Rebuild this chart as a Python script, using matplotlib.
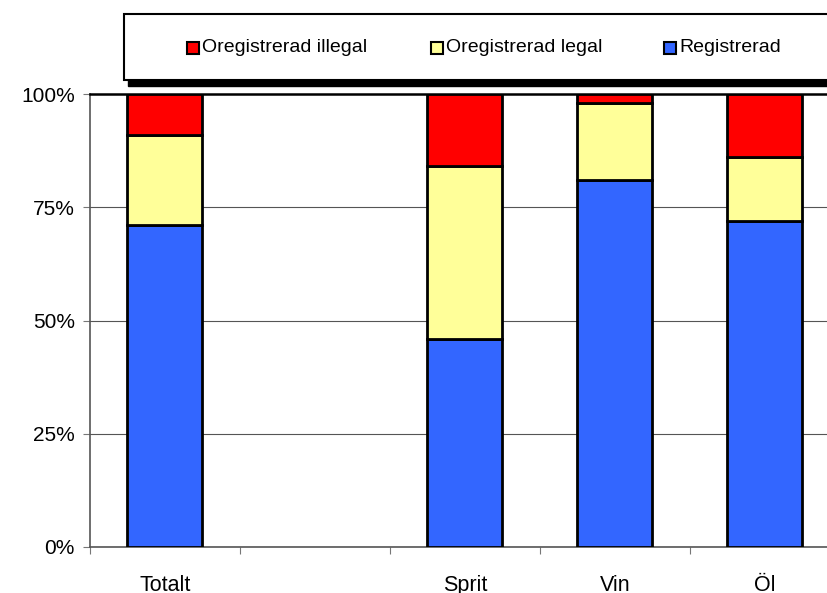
import numpy as np
import matplotlib.pyplot as plt
from matplotlib.patches import Rectangle

plt.rcParams["font.family"] = ["Liberation Sans", "DejaVu Sans"]

categories = ["Totalt", "", "Sprit", "Vin", "Öl"]
registrerad = [71, np.nan, 46, 81, 72]
oreg_legal = [20, np.nan, 38, 17, 14]
oreg_illegal = [9, np.nan, 16, 2, 14]

series_names = ["Oregistrerad illegal", "Oregistrerad legal", "Registrerad"]
colors = {"Registrerad": "#3366FF", "Oregistrerad legal": "#FFFF99", "Oregistrerad illegal": "#FF0000"}

fig = plt.figure(figsize=(8.28, 5.93), dpi=100)
ax = fig.add_axes([90 / 828, 1 - 547 / 593, 750 / 828, 453 / 593])

x = np.arange(len(categories))
reg = np.array(registrerad, dtype=float)
leg = np.array(oreg_legal, dtype=float)
ill = np.array(oreg_illegal, dtype=float)
kw = dict(width=0.5, edgecolor="black", linewidth=2.0, zorder=3)
ax.bar(x, reg, color=colors["Registrerad"], **kw)
ax.bar(x, leg, bottom=reg, color=colors["Oregistrerad legal"], **kw)
ax.bar(x, ill, bottom=reg + leg, color=colors["Oregistrerad illegal"], **kw)

ax.set_xlim(-0.5, len(categories) - 0.5)
ax.set_ylim(0, 100)
ax.set_yticks([0, 25, 50, 75, 100])
ax.set_yticklabels(["0%", "25%", "50%", "75%", "100%"], fontsize=15)
ax.yaxis.grid(True, color="#555555", linewidth=0.8, zorder=0)

# category boundary ticks, labels in between
ax.set_xticks(np.arange(len(categories) + 1) - 0.5)
ax.set_xticklabels([])
ax.set_xticks(x, minor=True)
ax.set_xticklabels(categories, minor=True, fontsize=15.5)
ax.tick_params(axis="x", which="minor", length=0, pad=20)
ax.tick_params(axis="x", which="major", length=5, color="#777777")
ax.tick_params(axis="y", length=5, color="#777777", pad=6)

for s in ["left", "bottom"]:
    ax.spines[s].set_color("#555555")
    ax.spines[s].set_linewidth(1.2)
ax.spines["top"].set_color("black")
ax.spines["top"].set_linewidth(1.8)
ax.spines["right"].set_visible(False)

# legend box with shadow
fig.patches.append(Rectangle((128 / 828, 1 - 86 / 593), 720 / 828, 66 / 593,
                             transform=fig.transFigure, facecolor="black", edgecolor="black"))
fig.patches.append(Rectangle((124 / 828, 1 - 80 / 593), 720 / 828, 66 / 593,
                             transform=fig.transFigure, facecolor="white", edgecolor="black",
                             linewidth=1.5))
entry_x = [187, 431, 664]
for name, ex in zip(series_names, entry_x):
    fig.patches.append(Rectangle((ex / 828, 1 - 54 / 593), 12 / 828, 12 / 593,
                                 transform=fig.transFigure, facecolor=colors[name],
                                 edgecolor="black", linewidth=1.5))
    fig.text((ex + 15) / 828, 1 - 48 / 593, name, fontsize=14, va="center", ha="left")

fig.savefig("out.png", dpi=100)
